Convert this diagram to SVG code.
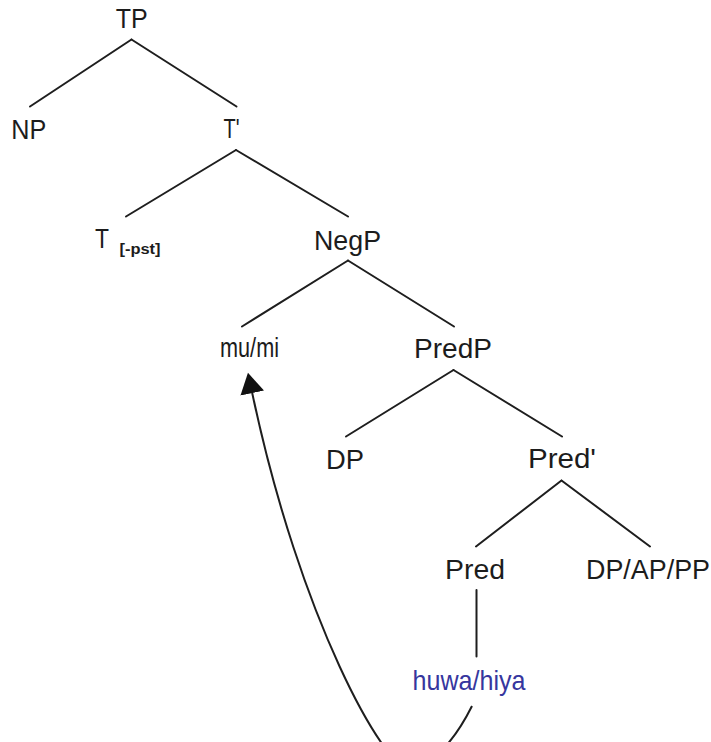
<svg xmlns="http://www.w3.org/2000/svg" width="711" height="742" viewBox="0 0 711 742">
  <style>
    .lbl { font-family: "Liberation Sans", Arial, sans-serif; font-size: 25px; fill: #1c1c1c; text-anchor: middle; }
    .feat { font-family: "Liberation Sans", Arial, sans-serif; font-size: 14px; font-weight: bold; fill: #1c1c1c; }
    .blue { fill: #36369e; }
    .edge { stroke: #1e1e1e; stroke-width: 2; fill: none; stroke-linecap: round; }
    .move { stroke: #1e1e1e; stroke-width: 2; fill: none; }
  </style>
  <defs>
    <marker id="arrowhead" markerUnits="userSpaceOnUse" markerWidth="22" markerHeight="24" viewBox="0 0 20 22" refX="1" refY="11" orient="auto">
      <path d="M0,0 L19,11 L0,22 z" fill="#111"/>
    </marker>
  </defs>
  <rect width="711" height="742" fill="#ffffff"/>

  <!-- tree branches and movement arrow -->
  <g id="connectors">
    <line class="edge" x1="131.5" y1="39.5" x2="30" y2="106.5"/>
    <line class="edge" x1="131.5" y1="39.5" x2="236.5" y2="106.5"/>
    <line class="edge" x1="236" y1="150" x2="126" y2="216.5"/>
    <line class="edge" x1="236" y1="150" x2="348" y2="216.5"/>
    <line class="edge" x1="348" y1="260.5" x2="242" y2="326.5"/>
    <line class="edge" x1="348" y1="260.5" x2="454" y2="326.5"/>
    <line class="edge" x1="453.5" y1="370" x2="346" y2="436.5"/>
    <line class="edge" x1="453.5" y1="370" x2="562" y2="436.5"/>
    <line class="edge" x1="561.5" y1="480.5" x2="476" y2="546.5"/>
    <line class="edge" x1="561.5" y1="480.5" x2="650" y2="546.5"/>
    <line class="edge" x1="476.5" y1="590" x2="476.5" y2="656.5"/>
    <path class="move" d="M472,706 Q445,760 410,770 C385,770 300,620 252,392" marker-end="url(#arrowhead)"/>
  </g>

  <g id="TP"><text class="lbl" transform="translate(131.7,28) scale(1,1.1)" textLength="32" lengthAdjust="spacingAndGlyphs">TP</text></g>
  <g id="NP"><text class="lbl" transform="translate(28.7,139) scale(1,1.1)" textLength="35" lengthAdjust="spacingAndGlyphs">NP</text></g>
  <g id="Tbar"><text class="lbl" transform="translate(231.5,138) scale(1,1.1)" textLength="16" lengthAdjust="spacingAndGlyphs">T'</text></g>
  <g id="T">
    <text class="lbl" transform="translate(102,248) scale(1,1.1)" textLength="14" lengthAdjust="spacingAndGlyphs">T</text>
    <text class="feat" x="119.5" y="254" textLength="41" lengthAdjust="spacingAndGlyphs">[-pst]</text>
  </g>
  <g id="NegP"><text class="lbl" transform="translate(347.5,250) scale(1,1.1)" textLength="67" lengthAdjust="spacingAndGlyphs">NegP</text></g>
  <g id="Neg"><text class="lbl" transform="translate(249.5,357) scale(1,1.1)" textLength="59" lengthAdjust="spacingAndGlyphs">mu/mi</text></g>
  <g id="PredP"><text class="lbl" transform="translate(453,358) scale(1,1.1)" textLength="78" lengthAdjust="spacingAndGlyphs">PredP</text></g>
  <g id="DP"><text class="lbl" transform="translate(345,469) scale(1,1.1)" textLength="38" lengthAdjust="spacingAndGlyphs">DP</text></g>
  <g id="Predbar"><text class="lbl" transform="translate(562,468) scale(1,1.1)" textLength="68" lengthAdjust="spacingAndGlyphs">Pred'</text></g>
  <g id="Pred"><text class="lbl" transform="translate(475,579) scale(1,1.1)" textLength="60" lengthAdjust="spacingAndGlyphs">Pred</text></g>
  <g id="Complement"><text class="lbl" transform="translate(648,579) scale(1,1.1)" textLength="124" lengthAdjust="spacingAndGlyphs">DP/AP/PP</text></g>
  <g id="Pronoun"><text class="lbl blue" transform="translate(469,690) scale(1,1.1)" textLength="113" lengthAdjust="spacingAndGlyphs">huwa/hiya</text></g>
</svg>
